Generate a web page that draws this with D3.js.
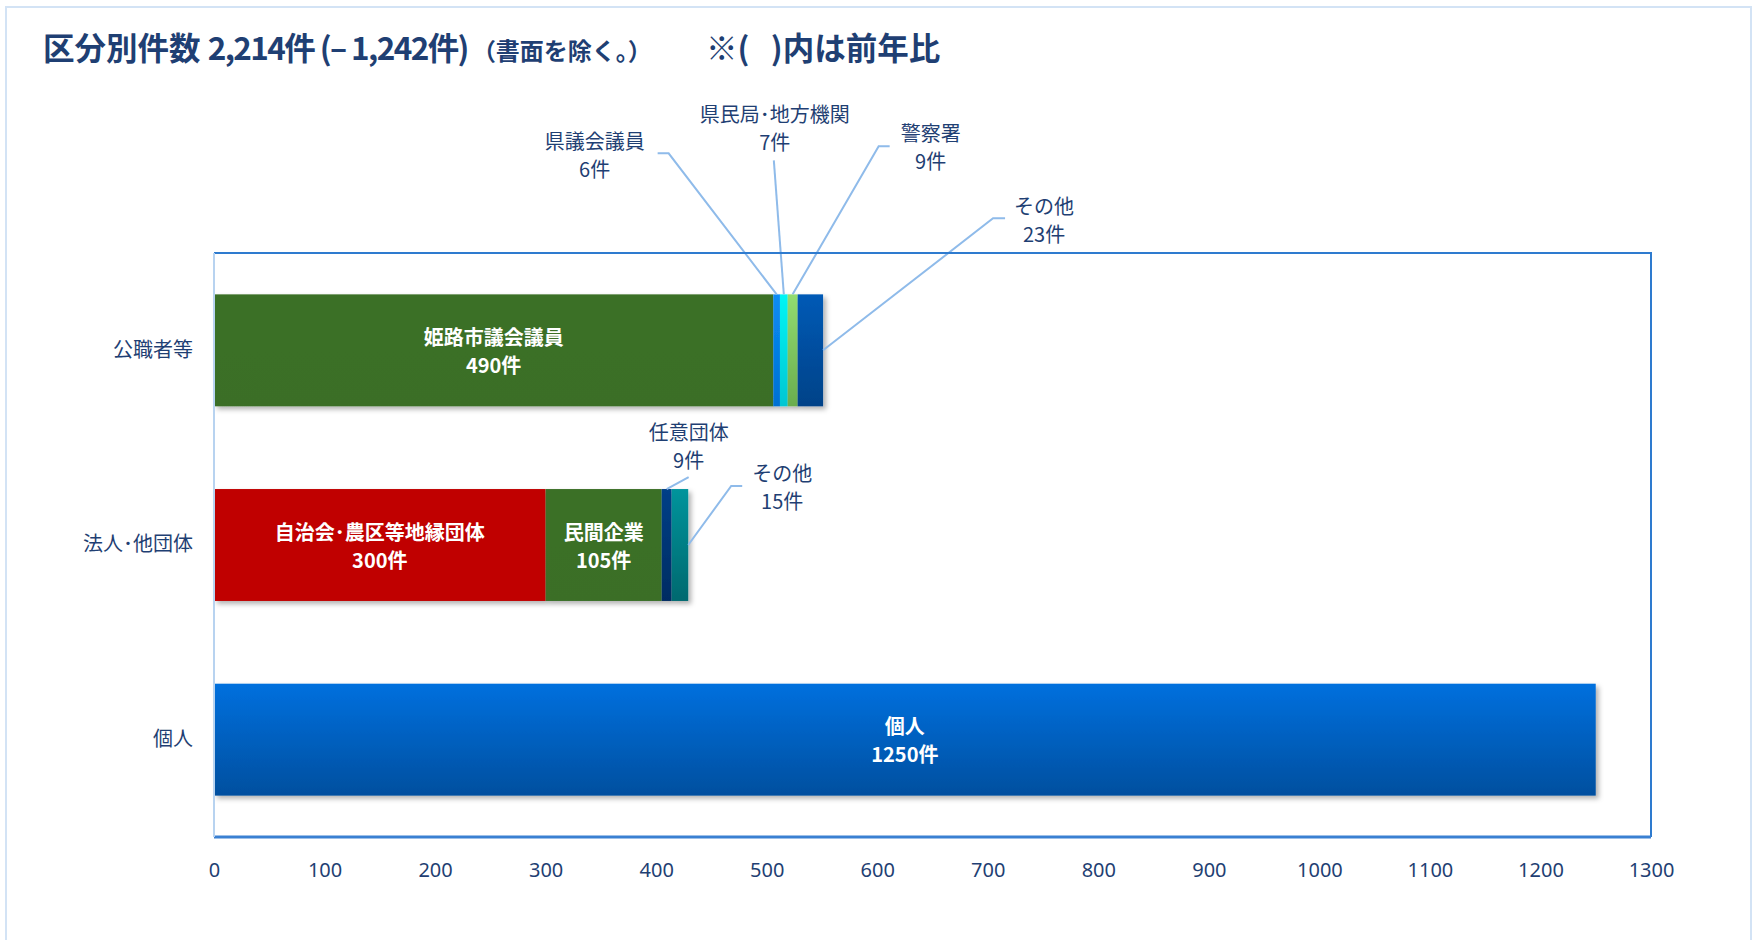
<!DOCTYPE html>
<html>
<head>
<meta charset="utf-8">
<script src="https://cdn.jsdelivr.net/npm/d3@7"></script>
<style>
    body { margin: 0; background: #fff; }
    text { font-family: "Noto Sans CJK JP", "Noto Sans", sans-serif; }
</style>
</head>
<body>
<div id="canvas"></div>
<script>
//data
const categories = ["公職者等", "法人･他団体", "個人"]

const publicNames = ["姫路市議会議員", "県議会議員", "県民局･地方機関", "警察署", "その他"]
const publicValues = [506, 6, 7, 9, 23]
const publicCounts = ["490件", "6件", "7件", "9件", "23件"]

const groupNames = ["自治会･農区等地縁団体", "民間企業", "任意団体", "その他"]
const groupValues = [300, 105, 9, 15]
const groupCounts = ["300件", "105件", "9件", "15件"]

const personNames = ["個人"]
const personValues = [1250]
const personCounts = ["1250件"]

const xTicks = [0, 100, 200, 300, 400, 500, 600, 700, 800, 900, 1000, 1100, 1200, 1300]

function drawChart(){
    //1) Build rows

    const rows = [
        {category: categories[0], names: publicNames, values: publicValues, counts: publicCounts},
        {category: categories[1], names: groupNames, values: groupValues, counts: groupCounts},
        {category: categories[2], names: personNames, values: personValues, counts: personCounts},
    ]
    rows.forEach(r => {
        let acc = 0
        r.segments = r.names.map((n, i) => {
            const s = {name: n, count: r.counts[i], x0: acc, x1: acc + r.values[i], row: r.category, i: i}
            acc += r.values[i]
            return s
        })
    })

    //fills for each segment (by row, by index)
    const fills = {
        "公職者等": ["url(#gGreen)", "url(#gBlue)", "url(#gCyan)", "url(#gLime)", "url(#gDark)"],
        "法人･他団体": ["#c00000", "url(#gGreen)", "url(#gNavy)", "url(#gTeal)"],
        "個人": ["url(#gPerson)"],
    }

    //callouts: null = label inside bar; offsets are from the anchor point on the bar
    const callouts = {
        "公職者等": [null,
            {anchor: "top", dx: -182, dy: -154, pts: [[-119, -141], [-108, -141]]},
            {anchor: "top", dx: -9, dy: -181, pts: [[-10, -134]]},
            {anchor: "top", dx: 138, dy: -162, pts: [[97, -148], [86, -148]]},
            {anchor: "right", dx: 221, dy: -145, pts: [[182, -132], [170, -132]]}],
        "法人･他団体": [null, null,
            {anchor: "top", dx: 22, dy: -58, pts: [[22, -12]]},
            {anchor: "right", dx: 94, dy: -73, pts: [[54, -59], [43, -59]]}],
        "個人": [null],
    }

    //2) Dimensions

    let dimensions = {
        width: 1758,
        height: 940,
        margin: {top: 253, right: 107, bottom: 103, left: 214},
    }
    dimensions.boundedWidth = dimensions.width - dimensions.margin.left - dimensions.margin.right
    dimensions.boundedHeight = dimensions.height - dimensions.margin.top - dimensions.margin.bottom

    //3) Canvas

    const canvas = d3.select("#canvas")
                        .append("svg")
                        .attr("width", dimensions.width)
                        .attr("height", dimensions.height)

    const defs = canvas.append("defs")

    const gradients = [
        ["gGreen", "#3b7027", "#3a6e26"],
        ["gBlue", "#0a8cf5", "#0070d2"],
        ["gCyan", "#00f6f6", "#00c6d2"],
        ["gLime", "#92dc70", "#6aad4e"],
        ["gDark", "#005ab6", "#004288"],
        ["gNavy", "#003f88", "#002c62"],
        ["gTeal", "#00949c", "#00696f"],
        ["gPerson", "#0070de", "#004f9f"],
    ]
    gradients.forEach(g => {
        const lg = defs.append("linearGradient").attr("id", g[0])
                        .attr("x1", 0).attr("y1", 0).attr("x2", 0).attr("y2", 1)
        lg.append("stop").attr("offset", "0%").attr("stop-color", g[1])
        lg.append("stop").attr("offset", "100%").attr("stop-color", g[2])
    })

    const shadow = defs.append("filter").attr("id", "shadow")
                        .attr("x", "-5%").attr("y", "-10%").attr("width", "115%").attr("height", "130%")
    shadow.append("feDropShadow")
            .attr("dx", 3).attr("dy", 3).attr("stdDeviation", 2.5)
            .attr("flood-color", "#000").attr("flood-opacity", 0.3)

    //outer frame
    canvas.append("rect")
            .attr("x", 6).attr("y", 7)
            .attr("width", 1745).attr("height", 945)
            .attr("fill", "none")
            .attr("stroke", "#d3e3f5")
            .attr("stroke-width", 2)

    //title
    const title = canvas.append("text")
                        .attr("x", 43).attr("y", 60)
                        .attr("fill", "#1f3f73")
                        .attr("font-weight", "bold")
                        .attr("font-size", 31.5)
                        .style("white-space", "pre")
    title.append("tspan").text("区分別件数 ")
    title.append("tspan").attr("letter-spacing", -1.6).text("2,214件 (– 1,242件)")
    title.append("tspan").attr("font-size", 24).attr("dx", 4).text("（書面を除く。）")
    title.append("tspan").attr("x", 706).text("※(   )内は前年比")

    const bounds = canvas.append("g")
                        .style("transform", `translate(${dimensions.margin.left}px, ${dimensions.margin.top}px)`)

    //4) Scales

    const xScale = d3.scaleLinear()
                        .domain([0, 1300])
                        .range([0, dimensions.boundedWidth])

    const yScale = d3.scaleBand()
                        .domain(categories)
                        .range([0, dimensions.boundedHeight])
                        .paddingInner(0.425)
                        .paddingOuter(0.2125)

    //5) Draw data

    const rowGroups = bounds.selectAll(".row")
                        .data(rows)
                        .enter().append("g")
                        .attr("class", "row")
                        .attr("filter", "url(#shadow)")

    rowGroups.selectAll("rect")
                .data(d => d.segments)
                .enter().append("rect")
                .attr("x", d => xScale(d.x0))
                .attr("y", d => yScale(d.row))
                .attr("width", d => xScale(d.x1) - xScale(d.x0))
                .attr("height", yScale.bandwidth())
                .attr("fill", d => fills[d.row][d.i])

    const allSegments = rows.flatMap(r => r.segments)

    //labels inside bars
    const inside = bounds.selectAll(".inside")
                        .data(allSegments.filter(d => !callouts[d.row][d.i]))
                        .enter().append("text")
                        .attr("class", "inside")
                        .attr("text-anchor", "middle")
                        .attr("fill", "#fff")
                        .attr("font-weight", "bold")
                        .attr("font-size", 20)
    inside.append("tspan")
            .attr("x", d => (xScale(d.x0) + xScale(d.x1)) / 2)
            .attr("y", d => yScale(d.row) + yScale.bandwidth() / 2 - 14)
            .attr("dominant-baseline", "central")
            .text(d => d.name)
    inside.append("tspan")
            .attr("x", d => (xScale(d.x0) + xScale(d.x1)) / 2)
            .attr("y", d => yScale(d.row) + yScale.bandwidth() / 2 + 14)
            .attr("dominant-baseline", "central")
            .text(d => d.count)

    //callout labels with leader lines
    const anchorOf = d => {
        const c = callouts[d.row][d.i]
        if (c.anchor == "right") return [xScale(d.x1), yScale(d.row) + yScale.bandwidth() / 2]
        return [(xScale(d.x0) + xScale(d.x1)) / 2, yScale(d.row)]
    }
    const outside = allSegments.filter(d => callouts[d.row][d.i])

    bounds.selectAll(".leader")
            .data(outside)
            .enter().append("path")
            .attr("class", "leader")
            .attr("fill", "none")
            .attr("stroke", "#8fbbea")
            .attr("stroke-width", 2)
            .attr("d", d => {
                const a = anchorOf(d)
                const pts = callouts[d.row][d.i].pts.map(p => [a[0] + p[0], a[1] + p[1]])
                pts.push(a)
                return d3.line()(pts)
            })

    const outLabels = bounds.selectAll(".callout")
                        .data(outside)
                        .enter().append("text")
                        .attr("class", "callout")
                        .attr("text-anchor", "middle")
                        .attr("fill", "#1f3f73")
                        .attr("font-size", 20)
    outLabels.append("tspan")
            .attr("x", d => anchorOf(d)[0] + callouts[d.row][d.i].dx)
            .attr("y", d => anchorOf(d)[1] + callouts[d.row][d.i].dy)
            .attr("dominant-baseline", "central")
            .text(d => d.name)
    outLabels.append("tspan")
            .attr("x", d => anchorOf(d)[0] + callouts[d.row][d.i].dx)
            .attr("y", d => anchorOf(d)[1] + callouts[d.row][d.i].dy + 28)
            .attr("dominant-baseline", "central")
            .text(d => d.count)

    //6) Peripherals

    //plot frame
    bounds.append("path")
            .attr("fill", "none")
            .attr("stroke", "#2e7bcf")
            .attr("stroke-width", 2)
            .attr("d", `M0,0H${dimensions.boundedWidth}V${dimensions.boundedHeight}`)
    bounds.append("line")
            .attr("x1", 0).attr("x2", dimensions.boundedWidth)
            .attr("y1", dimensions.boundedHeight).attr("y2", dimensions.boundedHeight)
            .attr("stroke", "#3a80d2")
            .attr("stroke-width", 3)
    bounds.append("line")
            .attr("x1", 0).attr("x2", 0)
            .attr("y1", 0).attr("y2", dimensions.boundedHeight)
            .attr("stroke", "#b8d3f0")
            .attr("stroke-width", 2)

    const xAxis = bounds.append("g")
                        .style("transform", `translate(0px, ${dimensions.boundedHeight}px)`)
                        .call(d3.axisBottom(xScale).tickValues(xTicks).tickFormat(d3.format("d")).tickSize(0).tickPadding(26))
    xAxis.select(".domain").remove()
    xAxis.selectAll("text")
            .attr("fill", "#1f3f73")
            .attr("font-size", 20)
            .style("font-family", "'Noto Sans', sans-serif")

    const yAxis = bounds.append("g")
                        .call(d3.axisLeft(yScale).tickSize(0).tickPadding(21))
    yAxis.select(".domain").remove()
    yAxis.selectAll("text")
            .attr("fill", "#1f3f73")
            .attr("font-size", 20)
            .style("font-family", "'Noto Sans CJK JP', sans-serif")
}
drawChart()
</script>
</body>
</html>
